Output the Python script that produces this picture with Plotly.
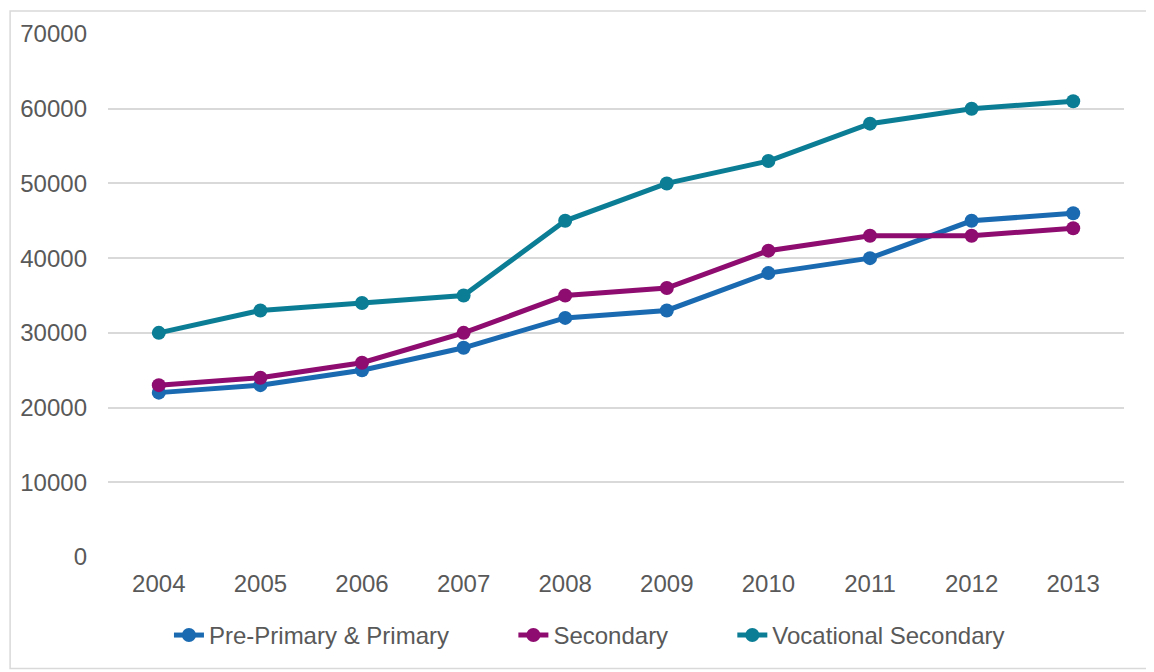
import plotly.graph_objects as go

years = ["2004", "2005", "2006", "2007", "2008", "2009", "2010", "2011", "2012", "2013"]
pre_primary = [22000, 23000, 25000, 28000, 32000, 33000, 38000, 40000, 45000, 46000]
secondary = [23000, 24000, 26000, 30000, 35000, 36000, 41000, 43000, 43000, 44000]
vocational = [30000, 33000, 34000, 35000, 45000, 50000, 53000, 58000, 60000, 61000]

series = [
    ("Pre-Primary & Primary", pre_primary, "#1a6ab1"),
    ("Secondary", secondary, "#8e0c6f"),
    ("Vocational Secondary", vocational, "#0b7e95"),
]
legend_ids = ["legend", "legend2", "legend3"]
legend_x = [0.060, 0.399, 0.6145]

W, H = 1146, 664
ml, mr, mt, mb = 99, 30, 24, 115

fig = go.Figure()
for (name, vals, col), lid in zip(series, legend_ids):
    fig.add_trace(go.Scatter(
        x=years, y=vals, name=name, mode="lines+markers",
        line=dict(color=col, width=5),
        marker=dict(color=col, size=14),
        legend=lid,
    ))

pw = W - ml - mr
ph = H - mt - mb
fig.add_shape(type="rect", xref="paper", yref="paper",
              x0=-(ml - 1) / pw, x1=1 + (mr - 2) / pw,
              y0=-(mb - 3) / ph, y1=1 + (mt - 1) / ph,
              line=dict(color="#d9d9d9", width=1.5), layer="below")

legend_common = dict(orientation="h", xanchor="left", y=-0.150, yanchor="middle",
                     font=dict(size=24, color="#595959"), itemwidth=30,
                     bgcolor="rgba(0,0,0,0)")

fig.update_layout(
    width=W, height=H,
    margin=dict(l=ml, r=mr, t=mt, b=mb),
    paper_bgcolor="white", plot_bgcolor="white",
    font=dict(family="Liberation Sans, Arial, sans-serif", size=24, color="#595959"),
    xaxis=dict(type="category", range=[-0.5, 9.5], showgrid=False,
               showline=False, zeroline=False, ticks="", ticklabelstandoff=10),
    yaxis=dict(range=[0, 70000], dtick=10000, showgrid=True, gridcolor="#d9d9d9",
               gridwidth=1.5, zeroline=False, showline=False, ticks="",
               tickformat="d", ticklabelstandoff=20),
    showlegend=True,
    legend=dict(x=legend_x[0], **legend_common),
    legend2=dict(x=legend_x[1], **legend_common),
    legend3=dict(x=legend_x[2], **legend_common),
)

fig.write_html("out.html")
